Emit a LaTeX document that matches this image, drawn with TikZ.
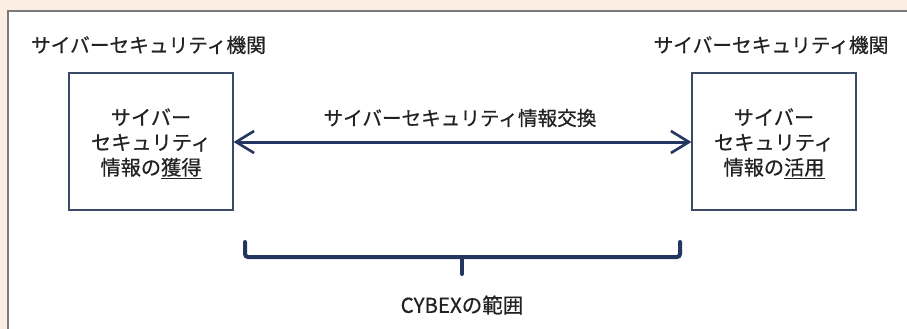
\documentclass[tikz,border=0pt]{standalone}
\usepackage{fontspec}
\setmainfont{Noto Sans CJK JP}
\newfontfamily\jpfont[FakeBold=0.6]{Noto Sans CJK JP}
\usetikzlibrary{arrows.meta}
\definecolor{bgbeige}{HTML}{FCEEE3}
\definecolor{framegray}{HTML}{7A7A7A}
\definecolor{navy}{HTML}{23365F}
\definecolor{boxline}{HTML}{3C4A6A}
\definecolor{txt}{HTML}{222222}
\tikzset{
  lbl/.style={text=txt, font=\jpfont\fontsize{19.7}{22}\selectfont, inner sep=0pt, anchor=center},
  infobox/.style={draw=boxline, line width=1.2pt, fill=white, minimum width=164pt, minimum height=137pt, inner sep=0pt},
  boxtext/.style={text=txt, font=\jpfont\fontsize{20.2}{25}\selectfont, align=center, inner sep=0pt},
  xchg/.style={draw=navy, line width=3pt, {Straight Barb[length=18pt,width=22pt,line width=2.6pt]}-{Straight Barb[length=18pt,width=22pt,line width=2.6pt]}},
  bracepath/.style={draw=navy, line width=4pt, rounded corners=3pt, line cap=round}
}
\begin{document}
\begin{tikzpicture}[x=1pt,y=-1pt]
\useasboundingbox (0,0) rectangle (907,329);
\fill[bgbeige] (0,0) rectangle (907,329);
\draw[framegray, line width=1.5pt, fill=white] (8,11) rectangle (930,350);

\node[lbl] (orgL) at (148.5,45) {サイバーセキュリティ機関};
\node[lbl] (orgR) at (771,45) {サイバーセキュリティ機関};

\node[infobox] (boxL) at (151,141.5) {};
\node[infobox] (boxR) at (774,141.5) {};
\node[boxtext] (txtL) at (151,143.5) {サイバー\\セキュリティ\\情報の\underline{獲得}};
\node[boxtext] (txtR) at (774,143.5) {サイバー\\セキュリティ\\情報の\underline{活用}};

\draw[xchg] ([yshift=-0.5pt]boxL.east) -- ([yshift=-0.5pt]boxR.west);
\node[lbl, font=\jpfont\fontsize{19.6}{22}\selectfont] (xlabel) at (460,118) {サイバーセキュリティ情報交換};

\coordinate (bL) at (245,242);
\coordinate (bR) at (680,242);
\coordinate (bTip) at (462,274);
\draw[bracepath] (bL) -- (245,257) -- (680,257) -- (bR);
\draw[navy, line width=4pt, line cap=round] (462,257) -- (bTip);

\node[lbl, font=\jpfont\fontsize{20.5}{22}\selectfont] (scope) at (462,305) {CYBEXの範囲};
\end{tikzpicture}
\end{document}
